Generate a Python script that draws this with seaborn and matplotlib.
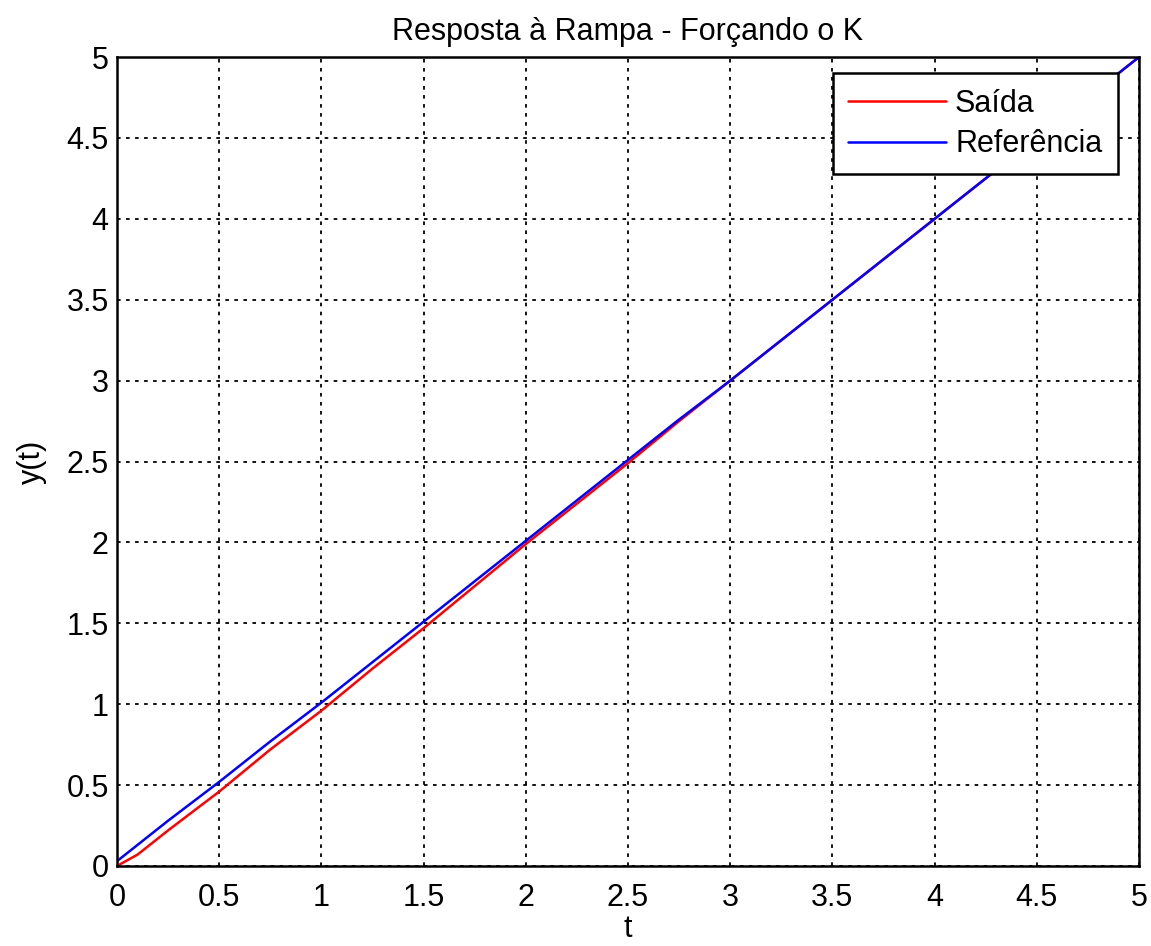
import numpy as np
import pandas as pd
import matplotlib
matplotlib.use("Agg")
import matplotlib.pyplot as plt
import seaborn as sns

# tempo (s) e sinais
t = [0, 0.1, 0.25, 0.5, 0.75, 1.0, 1.25, 1.5, 1.75, 2.0, 2.25, 2.5,
     2.75, 3.0, 3.25, 3.5, 3.75, 4.0, 4.25, 4.5, 4.75, 5.0]
referencia = [0.03, 0.13, 0.28, 0.52, 0.77, 1.01, 1.26, 1.51, 1.76, 2.01, 2.26, 2.51,
              2.76, 3.0, 3.25, 3.5, 3.75, 4.0, 4.25, 4.5, 4.75, 5.0]
saida = [0.0, 0.07, 0.22, 0.46, 0.72, 0.96, 1.22, 1.47, 1.73, 1.99, 2.24, 2.49,
         2.75, 3.0, 3.25, 3.5, 3.75, 4.0, 4.25, 4.5, 4.75, 5.0]
tick_labels = ["0", "0.5", "1", "1.5", "2", "2.5", "3", "3.5", "4", "4.5", "5"]

df = pd.DataFrame({"t": t, "Saída": saida, "Referência": referencia})
long_df = df.melt(id_vars="t", var_name="sinal", value_name="y")

sns.set_style("white")
plt.rcParams['font.family'] = ['Liberation Sans', 'DejaVu Sans']
plt.rcParams['text.color'] = 'black'
plt.rcParams['axes.labelcolor'] = 'black'

fig = plt.figure(figsize=(11.51, 9.46), dpi=100)
ax = fig.add_axes([0.1017, 0.0846, 0.8879, 0.8551])

sns.lineplot(data=long_df, x="t", y="y", hue="sinal",
             palette={"Saída": "#ff0000", "Referência": "#0000ff"},
             linewidth=1.8, ax=ax)

ax.set_xlim(0, 5)
ax.set_ylim(0, 5)
ax.set_xticks(np.arange(0, 5.01, 0.5))
ax.set_yticks(np.arange(0, 5.01, 0.5))
ax.set_xticklabels(tick_labels)
ax.set_yticklabels(tick_labels)
ax.tick_params(direction="in", length=8, width=1.5, labelsize=22, pad=6, colors="black")
ax.tick_params(axis="x", pad=12)
ax.grid(True, color="black", linestyle=(0, (2, 3)), linewidth=1.3)
for s in ax.spines.values():
    s.set_color("black")
    s.set_linewidth(1.8)

ax.set_xlabel("t", fontsize=22, labelpad=1)
ax.set_ylabel("y(t)", fontsize=22, labelpad=14)
ax.set_title("Resposta à Rampa - Forçando o K", fontsize=22, pad=12, color="black")

leg = ax.legend(loc="upper right", bbox_to_anchor=(0.979, 0.98), fontsize=22,
                frameon=True, fancybox=False, edgecolor="black", framealpha=1,
                handlelength=3.2, handletextpad=0.3, borderpad=0.5,
                labelspacing=0.35, borderaxespad=0)
leg.get_frame().set_linewidth(1.8)

fig.savefig("out.png", dpi=100)
